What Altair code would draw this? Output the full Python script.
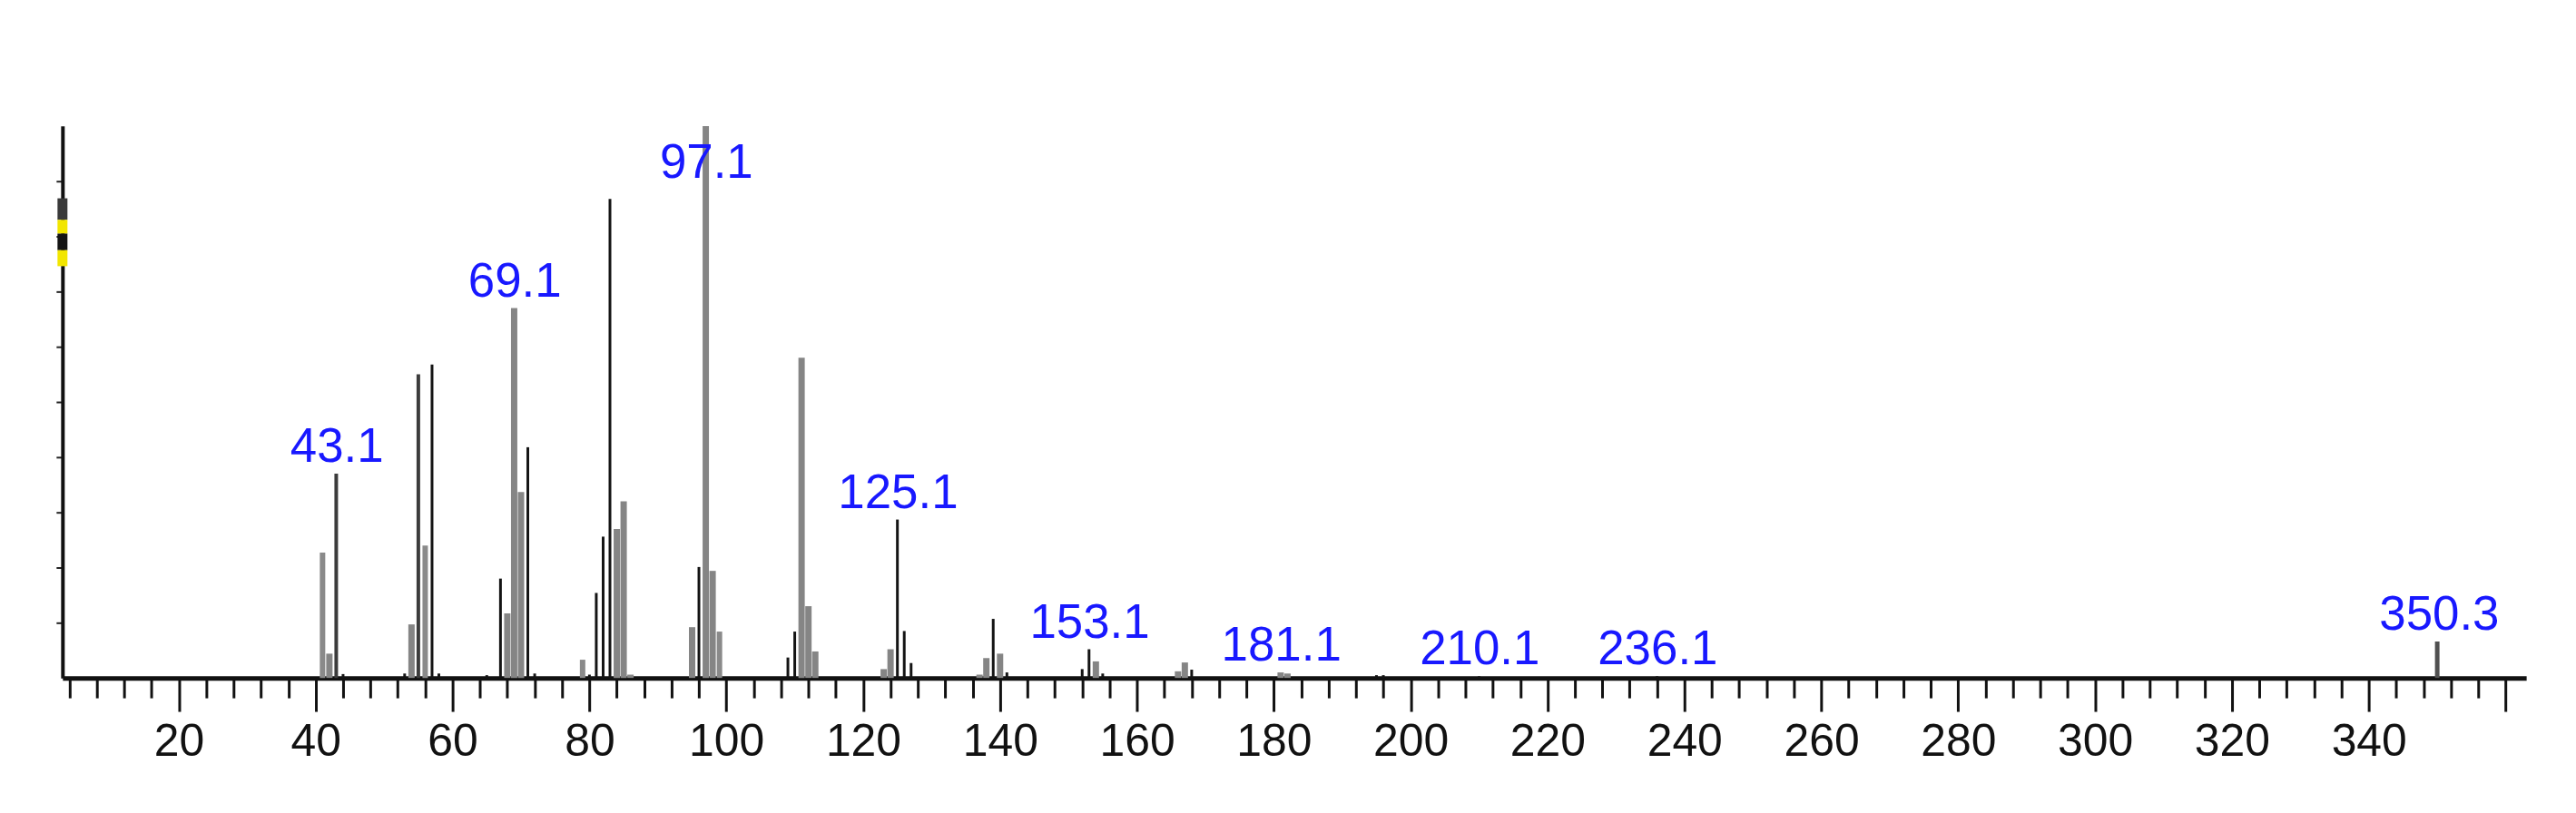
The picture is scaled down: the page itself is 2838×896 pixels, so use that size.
import altair as alt
import pandas as pd

# ---- data ----
mz = [41, 42, 43, 44, 53, 54, 55, 56, 57, 58,
      65, 67, 68, 69, 70, 71, 72, 79, 80, 81,
      82, 83, 84, 85, 86, 95, 96, 97, 98, 99,
      109, 110, 111, 112, 113, 123, 124, 125, 126, 127,
      137, 138, 139, 140, 141, 152, 153, 154, 155, 166,
      167, 168, 181, 182, 195, 196, 210, 236, 350]
intensity = [22.7, 4.4, 37.0, 0.7, 0.8, 9.7, 55.0, 24.0, 56.8, 0.8,
             0.5, 18.0, 11.7, 67.0, 33.7, 41.8, 0.8, 3.3, 0.6, 15.4,
             25.6, 86.8, 27.0, 32.0, 0.6, 9.2, 20.1, 100.0, 19.4, 8.4,
             3.7, 8.4, 58.0, 13.0, 4.8, 1.6, 5.2, 28.7, 8.5, 2.7,
             0.6, 3.6, 10.7, 4.4, 1.0, 1.6, 5.2, 3.0, 0.8, 1.2,
             2.8, 1.5, 1.0, 0.8, 0.5, 0.5, 0.3, 0.3, 6.6]
shade = ["l", "g", "d", "k", "k", "g", "d", "l", "k", "k",
         "k", "k", "g", "g", "g", "k", "k", "l", "k", "k",
         "k", "k", "g", "g", "g", "g", "k", "g", "g", "l",
         "k", "k", "g", "g", "g", "g", "g", "k", "k", "k",
         "g", "g", "k", "g", "k", "k", "k", "g", "k", "g",
         "g", "k", "g", "g", "k", "k", "k", "k", "t"]

label_text = ["43.1", "69.1", "97.1", "125.1", "153.1", "181.1", "210.1", "236.1", "350.3"]
label_peak = [37.0, 67.0, 100.0, 28.7, 5.2, 1.0, 0.3, 0.3, 6.6]

marker_lo = [83.0, 80.5, 77.5, 74.6]
marker_hi = [86.9, 83.0, 80.5, 77.5]
marker_col = ["#3a3a3a", "#f2e600", "#141414", "#f2e600"]

x_ticks = list(range(4, 361, 4))
y_ticks = list(range(10, 100, 10))

# ---- tables ----
order = {"g": 0, "l": 1, "t": 2, "d": 3, "k": 4}
peaks = pd.DataFrame({"mz": mz, "intensity": intensity, "shade": shade})
peaks["ord"] = peaks["shade"].map(order)
peaks = peaks.sort_values(["ord", "mz"]).reset_index(drop=True)

labels = pd.DataFrame({"text": label_text, "peak": label_peak})
labels["pos"] = labels["text"].astype(float)

markers = pd.DataFrame({"lo": marker_lo, "hi": marker_hi, "col": marker_col})

XMIN, XMAX = 3, 363
xscale = alt.Scale(domain=[XMIN, XMAX], nice=False, zero=False)
yscale = alt.Scale(domain=[0, 100], nice=False)

FONT = "Liberation Sans, Arial, sans-serif"

xaxis = alt.Axis(
    values=x_ticks,
    labelExpr="datum.value % 20 == 0 && datum.value < 360 ? datum.label : ''",
    format="d",
    tickSize={"condition": {"test": "datum.value % 20 == 0", "value": 37}, "value": 22},
    tickWidth=3,
    tickColor="#111111",
    domainWidth=5,
    domainColor="#111111",
    labelFont=FONT,
    labelFontSize=50,
    labelColor="#111111",
    labelPadding=9,
    labelFlush=False,
    labelOverlap=False,
    labelBound=False,
    grid=False,
    title=None,
)
yaxis = alt.Axis(
    values=y_ticks,
    labels=False,
    tickSize=7,
    tickWidth=2,
    tickColor="#222222",
    domainWidth=4,
    domainColor="#111111",
    grid=False,
    title=None,
)

bars = alt.Chart(peaks).mark_rule(strokeCap="butt").encode(
    x=alt.X("mz:Q", scale=xscale, axis=xaxis),
    y=alt.Y("intensity:Q", scale=yscale, axis=yaxis),
    y2=alt.datum(0),
    color=alt.Color("shade:N", legend=None,
                    scale=alt.Scale(domain=["g", "l", "t", "d", "k"],
                                    range=["#858585", "#8a8a8a", "#505050", "#3c3c3c", "#141414"])),
    strokeWidth=alt.StrokeWidth("shade:N", legend=None,
                                scale=alt.Scale(domain=["g", "l", "t", "d", "k"],
                                                range=[7, 3, 2, 5, 4.5])),
    order=alt.Order("ord:Q"),
)

text = alt.Chart(labels).transform_calculate(
    ly="min(datum.peak, 88.5)"
).mark_text(
    baseline="alphabetic", align="center", dy=-13,
    font=FONT, fontSize=53, color="#1818ff",
).encode(
    x=alt.X("pos:Q", scale=xscale, axis=xaxis),
    y=alt.Y("ly:Q", scale=yscale, axis=yaxis),
    text="text:N",
)

marker = alt.Chart(markers).transform_calculate(x0=str(XMIN)).mark_rule(
    strokeWidth=11, strokeCap="butt"
).encode(
    x=alt.X("x0:Q", scale=xscale, axis=xaxis),
    y=alt.Y("lo:Q", scale=yscale, axis=yaxis),
    y2="hi:Q",
    color=alt.Color("col:N", scale=None, legend=None),
)

chart = alt.layer(bars, text, marker).properties(
    width=2722,
    height=610,
    background="white",
    autosize=alt.AutoSizeParams(type="none"),
    padding={"left": 61, "top": 130, "right": 47, "bottom": 140},
).configure_view(stroke=None)

chart.save("out.html", embed_options={"renderer": "svg", "actions": False})
